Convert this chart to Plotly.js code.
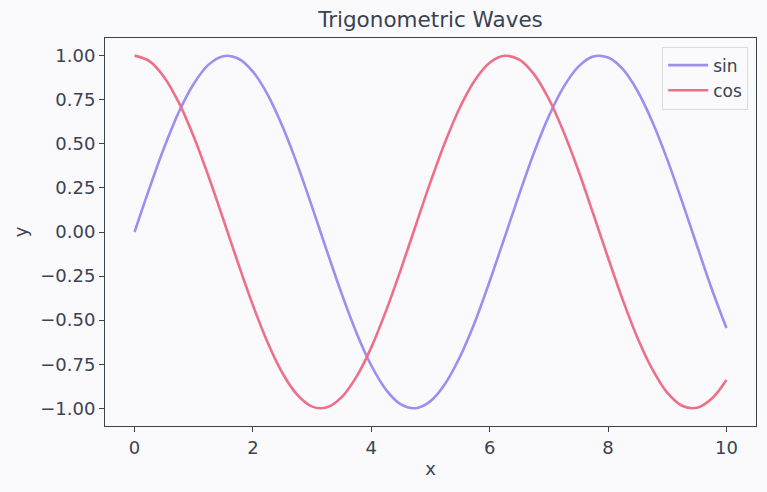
<!DOCTYPE html>
<html>
<head>
<meta charset="utf-8">
<script src="https://cdn.plot.ly/plotly-3.0.1.min.js"></script>
<style>html,body{margin:0;padding:0;background:#fafafc;}#chart{width:767px;height:492px;}</style>
</head>
<body>
<div id="chart"></div>
<script>
const xValues = [0,0.25,0.5,0.75,1,1.25,1.5,1.75,2,2.25,2.5,2.75,3,3.25,3.5,3.75,4,4.25,4.5,4.75,5,5.25,5.5,5.75,6,6.25,6.5,6.75,7,7.25,7.5,7.75,8,8.25,8.5,8.75,9,9.25,9.5,9.75,10];
const sinValues = [0.000,0.247,0.479,0.682,0.841,0.949,0.997,0.984,0.909,0.778,0.598,0.382,0.141,-0.108,-0.351,-0.572,-0.757,-0.895,-0.978,-0.999,-0.959,-0.859,-0.706,-0.510,-0.279,-0.033,0.215,0.451,0.657,0.823,0.938,0.995,0.989,0.923,0.798,0.624,0.412,0.174,-0.075,-0.320,-0.544];
const cosValues = [1.000,0.969,0.878,0.732,0.540,0.315,0.071,-0.178,-0.416,-0.628,-0.801,-0.924,-0.990,-0.994,-0.936,-0.820,-0.654,-0.446,-0.211,0.037,0.284,0.512,0.709,0.861,0.960,0.999,0.977,0.894,0.754,0.567,0.347,0.103,-0.146,-0.386,-0.602,-0.779,-0.911,-0.985,-0.997,-0.946,-0.839];
const seriesNames = ["sin","cos"];
const yTickVals = [-1,-0.75,-0.5,-0.25,0,0.25,0.5,0.75,1];
const yTickText = ["\u22121.00","\u22120.75","\u22120.50","\u22120.25","0.00","0.25","0.50","0.75","1.00"];
const xTickVals = [0,2,4,6,8,10];

const txt = "#3b4252";
const font = {family: "DejaVu Sans, sans-serif", size: 18, color: txt};
const traces = [
  {x: xValues, y: sinValues, name: seriesNames[0], mode: "lines", line: {color: "#9d8ef0", width: 2.6, shape: "spline", smoothing: 1}},
  {x: xValues, y: cosValues, name: seriesNames[1], mode: "lines", line: {color: "#ee7088", width: 2.6, shape: "spline", smoothing: 1}}
];
const axisCommon = {showgrid: false, zeroline: false, showline: true, linecolor: "#3b4252", linewidth: 1, mirror: true, ticks: "outside", ticklen: 5, tickcolor: "#3b4252", tickfont: font};
const layout = {
  width: 767, height: 492,
  paper_bgcolor: "#fafafc", plot_bgcolor: "#fafafc",
  margin: {l: 105, r: 11, t: 38, b: 66},
  font: font,
  title: {text: "Trigonometric Waves", font: {family: "DejaVu Sans, sans-serif", size: 21.5, color: txt}, xref: "paper", x: 0.5, xanchor: "center", yref: "container", y: 0.96, yanchor: "middle"},
  xaxis: Object.assign({}, axisCommon, {range: [-0.5, 10.5], tickvals: xTickVals, title: {text: "x", font: font, standoff: 5}}),
  yaxis: Object.assign({}, axisCommon, {range: [-1.1, 1.1], tickvals: yTickVals, ticktext: yTickText, title: {text: "y", font: font, standoff: 7}}),
  showlegend: true,
  legend: {x: 0.988, xanchor: "right", y: 0.978, yanchor: "top", bgcolor: "rgba(250,250,252,0.9)", bordercolor: "#dcdce0", borderwidth: 1, itemwidth: 40, entrywidth: 92, font: {family: "DejaVu Sans, sans-serif", size: 17, color: txt}}
};
Plotly.newPlot("chart", traces, layout, {displayModeBar: false, staticPlot: true});
</script>
</body>
</html>
